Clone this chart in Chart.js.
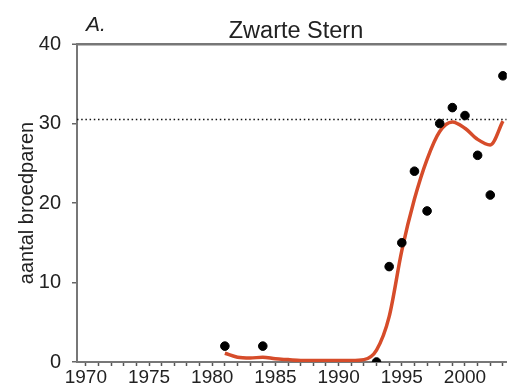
<!DOCTYPE html>
<html>
<head>
  <title>Zwarte Stern</title>
  <script src="https://cdn.jsdelivr.net/npm/chart.js"></script>
  <style>
    body { margin: 0; background: #fff; }
  </style>
</head>
<body>
  <canvas id="myChart" width="512" height="388"></canvas>
  <script>
// counted breeding pairs
const years = [1981, 1984, 1993, 1994, 1995, 1996, 1997, 1998, 1999, 2000, 2001, 2002, 2003];
const counts = [2, 2, 0, 12, 15, 24, 19, 30, 32, 31, 26, 21, 36];

// smoothed trend
const trendYears = [1981, 1982, 1983, 1984, 1985, 1986, 1987, 1988, 1989, 1990, 1991, 1992,
  1993, 1994, 1995, 1996, 1997, 1998, 1999, 2000, 2001, 2002, 2003];
const trendValues = [1.1, 0.6, 0.5, 0.6, 0.4, 0.3, 0.2, 0.2, 0.2, 0.2, 0.2, 0.3,
  1.5, 5.7, 14, 20.5, 25.5, 29, 30.2, 29.4, 28, 27.3, 30.3];

// dotted reference level
const refYears = [1969.3, 2003.3];
const refLevel = 30.5;

const yTicks = [0, 10, 20, 30, 40];

const font = 'Liberation Sans, Arial, sans-serif';

const labelsPlugin = {
  id: 'labels',
  afterDraw(chart) {
    const c = chart.ctx;
    c.save();
    c.fillStyle = '#222';
    c.textBaseline = 'alphabetic';
    c.font = '23.5px ' + font;
    c.textAlign = 'center';
    c.fillText('Zwarte Stern', 296, 38);
    c.font = 'italic 21px ' + font;
    c.textAlign = 'left';
    c.fillText('A.', 86, 31);
    c.restore();
  }
};

const ctx = document.getElementById('myChart').getContext('2d');
new Chart(ctx, {
  type: 'scatter',
  data: {
    datasets: [
      {
        data: years.map((y, i) => ({ x: y, y: counts[i] })),
        backgroundColor: '#000',
        borderColor: '#000',
        pointRadius: 4.3,
        order: 0
      },
      {
        type: 'line',
        data: trendYears.map((y, i) => ({ x: y, y: trendValues[i] })),
        borderColor: '#d64c2a',
        borderWidth: 3.5,
        pointRadius: 0,
        cubicInterpolationMode: 'monotone',
        fill: false,
        order: 1
      },
      {
        type: 'line',
        data: refYears.map(y => ({ x: y, y: refLevel })),
        borderColor: '#111',
        borderWidth: 1.5,
        borderDash: [1.5, 2.7],
        pointRadius: 0,
        order: 2
      }
    ]
  },
  options: {
    responsive: false,
    animation: false,
    layout: { padding: { top: 44, left: 0, right: 0, bottom: 0 } },
    plugins: {
      legend: { display: false },
      tooltip: { enabled: false }
    },
    scales: {
      x: {
        type: 'linear',
        min: 1969.3,
        max: 2003.3,
        afterBuildTicks: scale => {
          const t = [];
          for (let y = 1970; y <= 2003; y++) t.push({ value: y });
          scale.ticks = t;
        },
        afterFit: scale => { scale.height = 26; },
        ticks: {
          autoSkip: false,
          maxRotation: 0,
          padding: 0,
          color: '#222',
          font: { family: font, size: 19 },
          callback: v => (v % 5 === 0 ? String(v) : '')
        },
        grid: { drawOnChartArea: false, tickLength: 4, tickWidth: 1.5, color: '#555' },
        border: { color: '#777', width: 2 }
      },
      y: {
        min: 0,
        max: 40,
        afterBuildTicks: scale => { scale.ticks = yTicks.map(v => ({ value: v })); },
        afterFit: scale => { scale.width = 77; },
        ticks: {
          padding: 11,
          color: '#222',
          font: { family: font, size: 20 }
        },
        grid: {
          drawOnChartArea: true,
          tickLength: 5,
          tickColor: '#666',
          tickWidth: 1.5,
          color: c => (c.tick && c.tick.value === 40 ? '#777' : 'rgba(0,0,0,0)'),
          lineWidth: c => (c.tick && c.tick.value === 40 ? 2.5 : 1.5)
        },
        border: { color: '#777', width: 2 },
        title: {
          display: true,
          text: 'aantal broedparen',
          color: '#222',
          font: { family: font, size: 20 },
          padding: { top: 15, bottom: 0 }
        }
      }
    }
  },
  plugins: [labelsPlugin]
});
  </script>
</body>
</html>
